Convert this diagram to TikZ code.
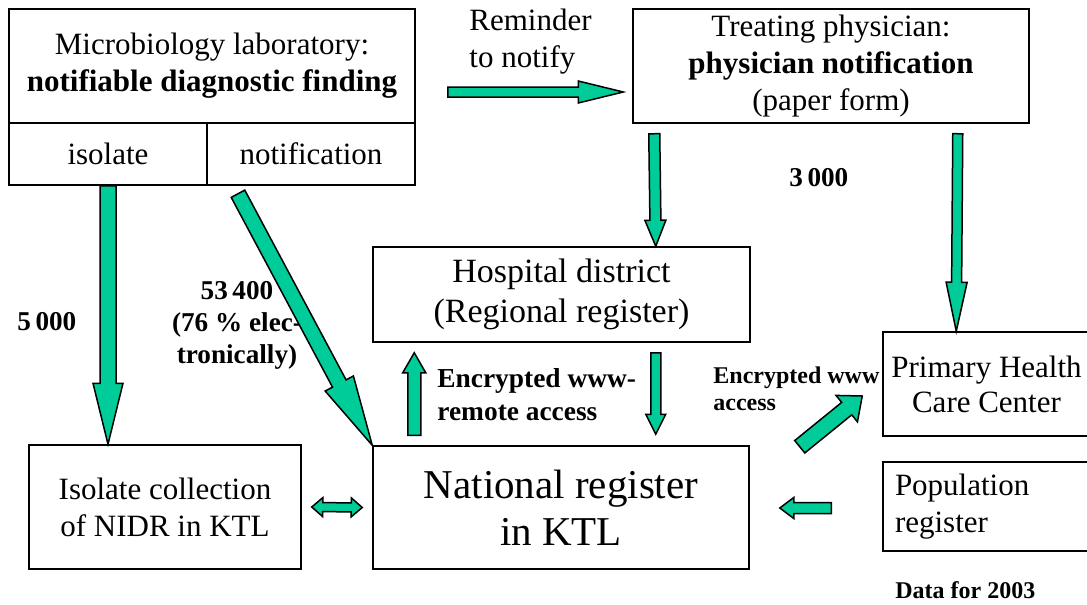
\documentclass[tikz,border=0pt]{standalone}
\usepackage{fontspec}
\setmainfont{Liberation Serif}
\usetikzlibrary{calc}
\definecolor{flowgreen}{RGB}{0,204,153}
\tikzset{
  box/.style={draw, line width=0.75pt, inner sep=0pt, align=center},
  lbl/.style={anchor=base west, align=left, inner sep=0pt},
  numlbl/.style={lbl, font=\fontsize{13.6}{16}\selectfont\bfseries},
  fat/.style n args={3}{fill=flowgreen, draw=black, line width=0.75pt, line join=miter,
    to path={($(\tikztostart)!#1!90:(\tikztotarget)$)
      -- ($(\tikztotarget)!#3!(\tikztostart)!#1!90:(\tikztotarget)$)
      -- ($(\tikztotarget)!#3!(\tikztostart)!#2!90:(\tikztotarget)$)
      -- (\tikztotarget)
      -- ($(\tikztotarget)!#3!(\tikztostart)!#2!-90:(\tikztotarget)$)
      -- ($(\tikztotarget)!#3!(\tikztostart)!#1!-90:(\tikztotarget)$)
      -- ($(\tikztostart)!#1!-90:(\tikztotarget)$) -- cycle}},
  fatboth/.style n args={3}{fill=flowgreen, draw=black, line width=0.75pt, line join=miter,
    to path={(\tikztostart)
      -- ($(\tikztostart)!#3!(\tikztotarget)!#2!90:(\tikztotarget)$)
      -- ($(\tikztostart)!#3!(\tikztotarget)!#1!90:(\tikztotarget)$)
      -- ($(\tikztotarget)!#3!(\tikztostart)!#1!90:(\tikztotarget)$)
      -- ($(\tikztotarget)!#3!(\tikztostart)!#2!90:(\tikztotarget)$)
      -- (\tikztotarget)
      -- ($(\tikztotarget)!#3!(\tikztostart)!#2!-90:(\tikztotarget)$)
      -- ($(\tikztotarget)!#3!(\tikztostart)!#1!-90:(\tikztotarget)$)
      -- ($(\tikztostart)!#3!(\tikztotarget)!#1!-90:(\tikztotarget)$)
      -- ($(\tikztostart)!#3!(\tikztotarget)!#2!-90:(\tikztotarget)$) -- cycle}},
}

\begin{document}
\begin{tikzpicture}[x=0.5pt, y=-0.5pt, font=\fontsize{15.5}{18.5}\selectfont]
    \useasboundingbox (0,0) rectangle (1087,605);

    % boxes
    \node[box, minimum width=203pt, minimum height=57pt] (lab) at (212,66)
        {Microbiology laboratory:\\\textbf{notifiable diagnostic finding}};
    \node[box, minimum width=99pt, minimum height=31pt] (iso) at (108,154) {isolate};
    \node[box, minimum width=104pt, minimum height=31pt] (notif) at (311,154) {notification};
    \node[box, minimum width=198pt, minimum height=57pt] (treat) at (831,66)
        {Treating physician:\\\textbf{physician notification}\\(paper form)};
    \node[box, font=\fontsize{17}{20}\selectfont, minimum width=188.5pt, minimum height=47.5pt] (hosp) at (561.5,294.5)
        {Hospital district\\(Regional register)};
    \node[box, font=\fontsize{20.5}{23.5}\selectfont, minimum width=188pt, minimum height=61.5pt] (natl) at (561,507.5)
        {National register\\in KTL};
    \node[box, minimum width=136pt, minimum height=62pt] (coll) at (165,507)
        {Isolate collection\\of NIDR in KTL};
    \node[box, font=\fontsize{15.5}{17.5}\selectfont, minimum width=103.5pt, minimum height=52pt] (prim) at (986.5,384)
        {Primary Health\\Care Center};
    \node[box, align=left, text width=91.5pt, inner xsep=6pt, minimum height=44.5pt] (pop) at (986.5,506.5)
        {Population\\register};

    % labels (base = last line)
    \node[lbl] (remind) at (469,67) {Reminder\\to notify};
    \node[numlbl] (n3000) at (789,186) {3\,000};
    \node[numlbl] (n5000) at (17,330) {5\,000};
    \node[numlbl, anchor=base, align=center] (n53400) at (237,363) {53\,400\\(76 \% elec-\\tronically)};
    \node[lbl, font=\fontsize{13.7}{16.5}\selectfont\bfseries] (enc1) at (437,420) {Encrypted www-\\remote access};
    \node[lbl, font=\fontsize{12}{13.5}\selectfont\bfseries] (enc2) at (713,410) {Encrypted www\\access};
    \node[lbl, font=\fontsize{12}{13.5}\selectfont\bfseries] (data) at (895,598) {Data for 2003};

    % arrows
    \path[fat={2.5pt}{5.5pt}{22.5pt}] ($(lab.east)+(32,26)$) to ($(treat.west)+(-9,26)$);
    \path[fat={2.75pt}{5.25pt}{13pt}] ($(treat.south west)+(22,10)$) to ($(hosp.north east)+(-95,0)$);
    \path[fat={2.5pt}{5.25pt}{24.5pt}] ($(treat.south east)+(-72,10)$) to ($(prim.north west)+(74,0)$);
    \path[fat={4pt}{7.5pt}{30.5pt}] (iso.south) to (iso.south |- coll.north);
    \path[fat={3.85pt}{8pt}{35pt}] ($(notif.south)+(-73,8)$) to (natl.north west);
    \path[fat={2.5pt}{5pt}{10pt}] ($(hosp.south east)+(-95,10)$) to ($(natl.north east)+(-94,-11)$);
    \path[fat={3.25pt}{5.75pt}{10pt}] ($(natl.north west)+(42,-10)$) to ($(hosp.south west)+(42,10)$);
    \path[fat={4pt}{8.5pt}{10pt}] ($(natl.north east)+(50,1.5)$) to ($(prim.west)+(-20,12)$);
    \path[fat={2.75pt}{5.25pt}{7pt}] ($(pop.west)+(-51,1.5)$) to ($(natl.east)+(30,0.5)$);
    \path[fatboth={2.25pt}{4.75pt}{5.5pt}] ($(coll.east)+(10,0)$) to ($(natl.west)+(-10,0)$);
\end{tikzpicture}
\end{document}
